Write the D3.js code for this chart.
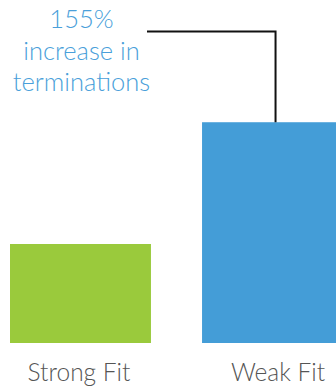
<!DOCTYPE html>
<html><head><meta charset="utf-8">
<script src="https://cdn.jsdelivr.net/npm/d3@7"></script>
<style>body{margin:0;background:#fff}svg{display:block}</style>
</head><body>
<script>
const categories = ["Strong Fit", "Weak Fit"];
const values = [1.0, 2.23];
const colors = ["#9aca3c", "#449dd7"];
const annotationLines = ["155%", "increase in", "terminations"];

const W = 336, H = 387;
const svg = d3.select("body").append("svg").attr("width", W).attr("height", H);

const x = d3.scaleBand().domain(categories).range([10, 343]).paddingInner(0.266).paddingOuter(0);
const y = d3.scaleLinear().domain([0, 2.5]).range([343, 95.5]);

svg.selectAll("rect.bar").data(categories).join("rect")
  .attr("class", "bar")
  .attr("x", d => x(d))
  .attr("width", x.bandwidth())
  .attr("y", (d, i) => y(values[i]))
  .attr("height", (d, i) => y(0) - y(values[i]))
  .attr("fill", (d, i) => colors[i]);

const labelOffsets = [-1.5, 5.5];
svg.selectAll("text.cat").data(categories).join("text")
  .attr("class", "cat")
  .attr("x", (d, i) => x(d) + x.bandwidth() / 2 + labelOffsets[i])
  .attr("y", 381)
  .attr("text-anchor", "middle")
  .attr("font-family", "Lato, sans-serif")
  .attr("font-weight", 300)
  .attr("font-size", 24.5)
  .attr("fill", "#555")
  .text(d => d);

// annotation
const ax = x("Strong Fit") + x.bandwidth() / 2 + 1;
svg.selectAll("text.ann").data(annotationLines).join("text")
  .attr("class", "ann")
  .attr("x", ax)
  .attr("y", (d, i) => 28 + i * 31.5)
  .attr("text-anchor", "middle")
  .attr("font-family", "Lato, sans-serif")
  .attr("font-weight", 300)
  .attr("font-size", 25.5)
  .attr("fill", "#4a9fda")
  .text(d => d);

const lx = x("Weak Fit") + 73.5;
svg.append("path")
  .attr("d", `M147,31.5H${lx}V${y(values[1])}`)
  .attr("fill", "none")
  .attr("stroke", "#111")
  .attr("stroke-width", 2);
</script>
</body></html>
